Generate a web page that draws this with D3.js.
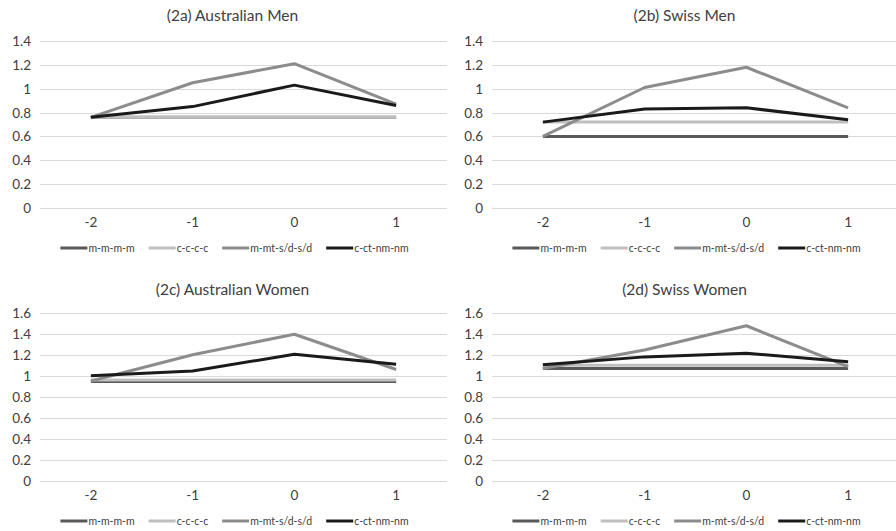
<!DOCTYPE html>
<html lang="en">
  <head>
    <meta charset="utf-8" />
    <title>Line charts: four panels</title>
    <script src="https://d3js.org/d3.v7.min.js"></script>
    <style type="text/css">
      body { margin: 0; background: #fff; }
      svg text { font-family: Lato, "Open Sans", sans-serif; fill: #404040; }
    </style>
  </head>
  <body>
    <script type="text/javascript">
      // categories on the x axis
      const categories = ["-2", "-1", "0", "1"];
      const seriesNames = ["m-m-m-m", "c-c-c-c", "m-mt-s/d-s/d", "c-ct-nm-nm"];
      const seriesColors = ["#595959", "#bfbfbf", "#8c8c8c", "#1a1a1a"];

      const titles = ["(2a) Australian Men", "(2b) Swiss Men", "(2c) Australian Women", "(2d) Swiss Women"];
      const yMax = [1.4, 1.4, 1.6, 1.6];

      // values per panel, one array per series
      const ausMen = [
        [0.76, 0.76, 0.76, 0.76],
        [0.76, 0.76, 0.76, 0.76],
        [0.76, 1.05, 1.21, 0.87],
        [0.76, 0.85, 1.03, 0.86]
      ];
      const swissMen = [
        [0.6, 0.6, 0.6, 0.6],
        [0.72, 0.72, 0.72, 0.72],
        [0.6, 1.01, 1.18, 0.84],
        [0.72, 0.83, 0.84, 0.74]
      ];
      const ausWomen = [
        [0.945, 0.945, 0.945, 0.945],
        [0.96, 0.96, 0.96, 0.96],
        [0.95, 1.2, 1.395, 1.06],
        [1.0, 1.045, 1.205, 1.11]
      ];
      const swissWomen = [
        [1.07, 1.07, 1.07, 1.07],
        [1.1, 1.1, 1.1, 1.1],
        [1.07, 1.245, 1.476, 1.087],
        [1.106, 1.18, 1.214, 1.134]
      ];
      const panelData = [ausMen, swissMen, ausWomen, swissWomen];

      const w = 896;
      const h = 531;

      const svg = d3.select("body").append("svg").attr("width", w).attr("height", h);

      // panel layout
      const panels = [
        { x: 0, y: 0, left: 40, top: 41, bottom: 208, titleY: 15, tickY: 222, legendY: 248 },
        { x: 448, y: 0, left: 44, top: 41, bottom: 208, titleY: 15, tickY: 222, legendY: 248 },
        { x: 0, y: 265, left: 40, top: 47.7, bottom: 216, titleY: 24, tickY: 230, legendY: 256 },
        { x: 448, y: 265, left: 44, top: 47.7, bottom: 216, titleY: 24, tickY: 230, legendY: 256 }
      ];
      const plotW = 407;

      panels.forEach(function (p, pi) {
        const g = svg.append("g").attr("transform", "translate(" + p.x + "," + p.y + ")");

        const xScale = d3.scaleBand().domain(categories).range([p.left, p.left + plotW]);
        const yScale = d3.scaleLinear().domain([0, yMax[pi]]).range([p.bottom, p.top]);
        const ticks = d3.range(0, yMax[pi] + 0.001, 0.2);

        // title
        g.append("text")
          .attr("x", p.left + plotW / 2 - 11)
          .attr("y", p.titleY)
          .attr("text-anchor", "middle")
          .attr("dominant-baseline", "central")
          .style("font-size", "15.5px")
          .text(titles[pi]);

        // gridlines
        g.selectAll("line.grid")
          .data(ticks)
          .enter()
          .append("line")
          .attr("class", "grid")
          .attr("x1", p.left)
          .attr("x2", p.left + plotW)
          .attr("y1", function (d) { return Math.round(yScale(d)) + 0.5; })
          .attr("y2", function (d) { return Math.round(yScale(d)) + 0.5; })
          .attr("stroke", "#d9d9d9")
          .attr("stroke-width", 1);

        // y tick labels
        g.selectAll("text.ytick")
          .data(ticks)
          .enter()
          .append("text")
          .attr("class", "ytick")
          .attr("x", p.left - 9)
          .attr("y", function (d) { return yScale(d); })
          .attr("text-anchor", "end")
          .attr("dominant-baseline", "central")
          .style("font-size", "13.5px")
          .text(function (d) { return d3.format("~g")(+d.toFixed(1)); });

        // x tick labels
        g.selectAll("text.xtick")
          .data(categories)
          .enter()
          .append("text")
          .attr("class", "xtick")
          .attr("x", function (d) { return xScale(d) + xScale.bandwidth() / 2; })
          .attr("y", p.tickY)
          .attr("text-anchor", "middle")
          .attr("dominant-baseline", "central")
          .style("font-size", "13.5px")
          .text(function (d) { return d; });

        // lines
        const line = d3.line()
          .x(function (d, i) { return xScale(categories[i]) + xScale.bandwidth() / 2; })
          .y(function (d) { return yScale(d); });

        g.selectAll("path.series")
          .data(panelData[pi])
          .enter()
          .append("path")
          .attr("class", "series")
          .attr("d", line)
          .attr("fill", "none")
          .attr("stroke", function (d, i) { return seriesColors[i]; })
          .attr("stroke-width", 3)
          .attr("stroke-linejoin", "round");

        // legend
        const legend = g.append("g");
        const lineLen = 27;
        let cursor = 0;
        seriesNames.forEach(function (name, i) {
          const item = legend.append("g").attr("transform", "translate(" + cursor + ",0)");
          item.append("line")
            .attr("x1", 0)
            .attr("x2", lineLen)
            .attr("y1", 0)
            .attr("y2", 0)
            .attr("stroke", seriesColors[i])
            .attr("stroke-width", 3);
          const t = item.append("text")
            .attr("x", lineLen + 1)
            .attr("y", 0)
            .attr("dominant-baseline", "central")
            .style("font-size", "10.5px")
            .text(name);
          cursor += lineLen + 1 + t.node().getComputedTextLength() + 14;
        });
        const legendW = cursor - 14;
        const legendX = p.left + plotW / 2 - 9 - legendW / 2;
        legend.attr("transform", "translate(" + legendX + "," + p.legendY + ")");
      });
    </script>
  </body>
</html>
